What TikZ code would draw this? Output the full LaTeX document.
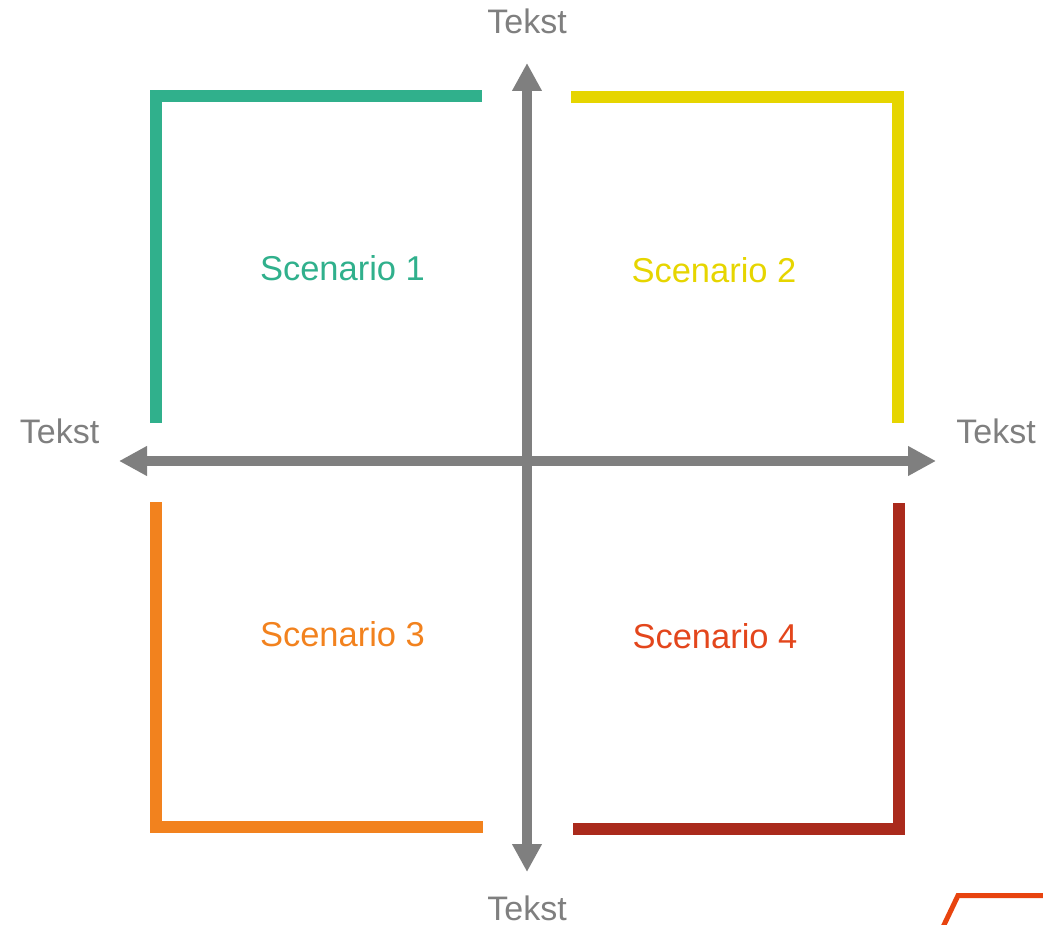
\documentclass[tikz,border=0pt]{standalone}
\usepackage{fontspec}
\setmainfont{Liberation Sans}
\usetikzlibrary{arrows.meta}
\definecolor{axgray}{HTML}{7F7F7F}
\definecolor{scgreen}{HTML}{30B08C}
\definecolor{scyellow}{HTML}{E6D500}
\definecolor{scorange}{HTML}{F2821E}
\definecolor{scred}{HTML}{AA2A1C}
\definecolor{txtred}{HTML}{E3461C}
\definecolor{cornerred}{HTML}{E8440F}
\tikzset{
  axis/.style={draw=axgray, line width=10pt, {Triangle[length=28pt,width=28pt]}-{Triangle[length=28pt,width=28pt]}},
  bracket/.style={line width=12pt, line join=miter},
  lbl/.style={font=\fontsize{34.5}{40}\selectfont, inner sep=0pt},
  tlbl/.style={font=\fontsize{34}{40}\selectfont, inner sep=0pt, text=axgray},
}
\begin{document}
\begin{tikzpicture}[x=1pt,y=-1pt]
\useasboundingbox (0,0) rectangle (1043,925);
% axes
\coordinate (top) at (527,63);
\coordinate (bot) at (527,872);
\coordinate (lft) at (119,461);
\coordinate (rgt) at (936,461);
\draw[axis] (top) -- (bot);
\draw[axis] (lft) -- (rgt);
% brackets
\draw[bracket, scgreen] (156,423) -- (156,96.5) -- (482,96.5);
\draw[bracket, scyellow] (571,97) -- (898,97) -- (898,423);
\draw[bracket, scorange] (156,502) -- (156,827) -- (483,827);
\draw[bracket, scred] (573,829) -- (899,829) -- (899,503);
% labels
\node[lbl, text=scgreen] (s1) at (342.5,268) {Scenario 1};
\node[lbl, text=scyellow] (s2) at (714,270) {Scenario 2};
\node[lbl, text=scorange] (s3) at (342.5,634) {Scenario 3};
\node[lbl, text=txtred] (s4) at (715,636) {Scenario 4};
\node[tlbl] (ttop) at (527,21.5) {Tekst};
\node[tlbl] (tbot) at (527,908.5) {Tekst};
\node[tlbl] (tlft) at (59.5,431) {Tekst};
\node[tlbl] (trgt) at (996,431) {Tekst};
% corner mark
\draw[cornerred, line width=5pt] (943,927) -- (958,895.5) -- (1045,895.5);
\end{tikzpicture}
\end{document}
